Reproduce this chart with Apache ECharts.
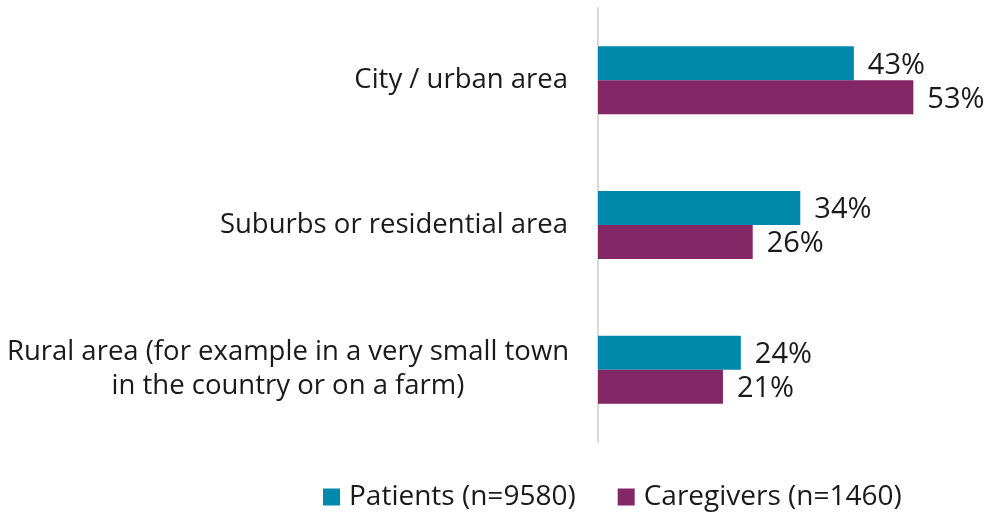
<!DOCTYPE html>
<html>
<head>
<meta charset="utf-8">
<script src="https://cdn.jsdelivr.net/npm/echarts@6/dist/echarts.min.js"></script>
<style>
  html, body { margin: 0; padding: 0; background: #fff; }
  #main { width: 995px; height: 519px; }
</style>
</head>
<body>
<div id="main"></div>
<script>
// 区域分布条形图

var categories = [
    'City / urban area',
    'Suburbs or residential area',
    'Rural area (for example in a very small town\nin the country or on a farm)'
];
var patients = [43, 34, 24];
var caregivers = [53, 26, 21];
var seriesNames = ['Patients (n=9580)', 'Caregivers (n=1460)'];

var FONT = '"Open Sans", sans-serif';

var myChart = echarts.init(document.getElementById('main'));

var valueLabel = {
    show: true,
    position: 'right',
    distance: 14,
    formatter: '{c}%',
    fontSize: 29,
    color: '#1a1a1a',
    fontFamily: FONT,
    offset: [0, 2]
};

var option = {
    backgroundColor: '#ffffff',
    textStyle: { fontFamily: FONT },
    legend: {
        bottom: 3,
        left: 318,
        itemWidth: 17,
        itemHeight: 17,
        itemGap: 42,
        icon: 'rect',
        textStyle: { fontSize: 28, color: '#1a1a1a', fontFamily: FONT, padding: [0, 0, 0, 4] },
        data: seriesNames
    },
    grid: {
        left: 598,
        right: 40,
        top: 8,
        height: 434
    },
    xAxis: {
        type: 'value',
        min: 0,
        max: 60,
        show: false
    },
    yAxis: {
        type: 'category',
        inverse: true,
        data: categories,
        axisLine: { show: true, lineStyle: { color: '#d9d9d9', width: 2 } },
        axisTick: { show: false },
        axisLabel: {
            margin: 30,
            fontSize: 27.5,
            color: '#1a1a1a',
            fontFamily: FONT,
            formatter: function (v) {
                if (v.indexOf('\n') < 0) return v;
                return v.split('\n').map(function (s) { return '{c|' + s + '}'; }).join('\n');
            },
            rich: {
                c: {
                    width: 560,
                    align: 'center',
                    fontSize: 27.5,
                    lineHeight: 34,
                    color: '#1a1a1a',
                    fontFamily: FONT
                }
            }
        }
    },
    series: [
        {
            name: seriesNames[0],
            type: 'bar',
            data: patients,
            barWidth: 34,
            barGap: '0%',
            itemStyle: { color: '#0089ab' },
            label: valueLabel
        },
        {
            name: seriesNames[1],
            type: 'bar',
            data: caregivers,
            barWidth: 34,
            barGap: '0%',
            itemStyle: { color: '#832767' },
            label: valueLabel
        }
    ]
};

myChart.setOption(option);
</script>
</body>
</html>
